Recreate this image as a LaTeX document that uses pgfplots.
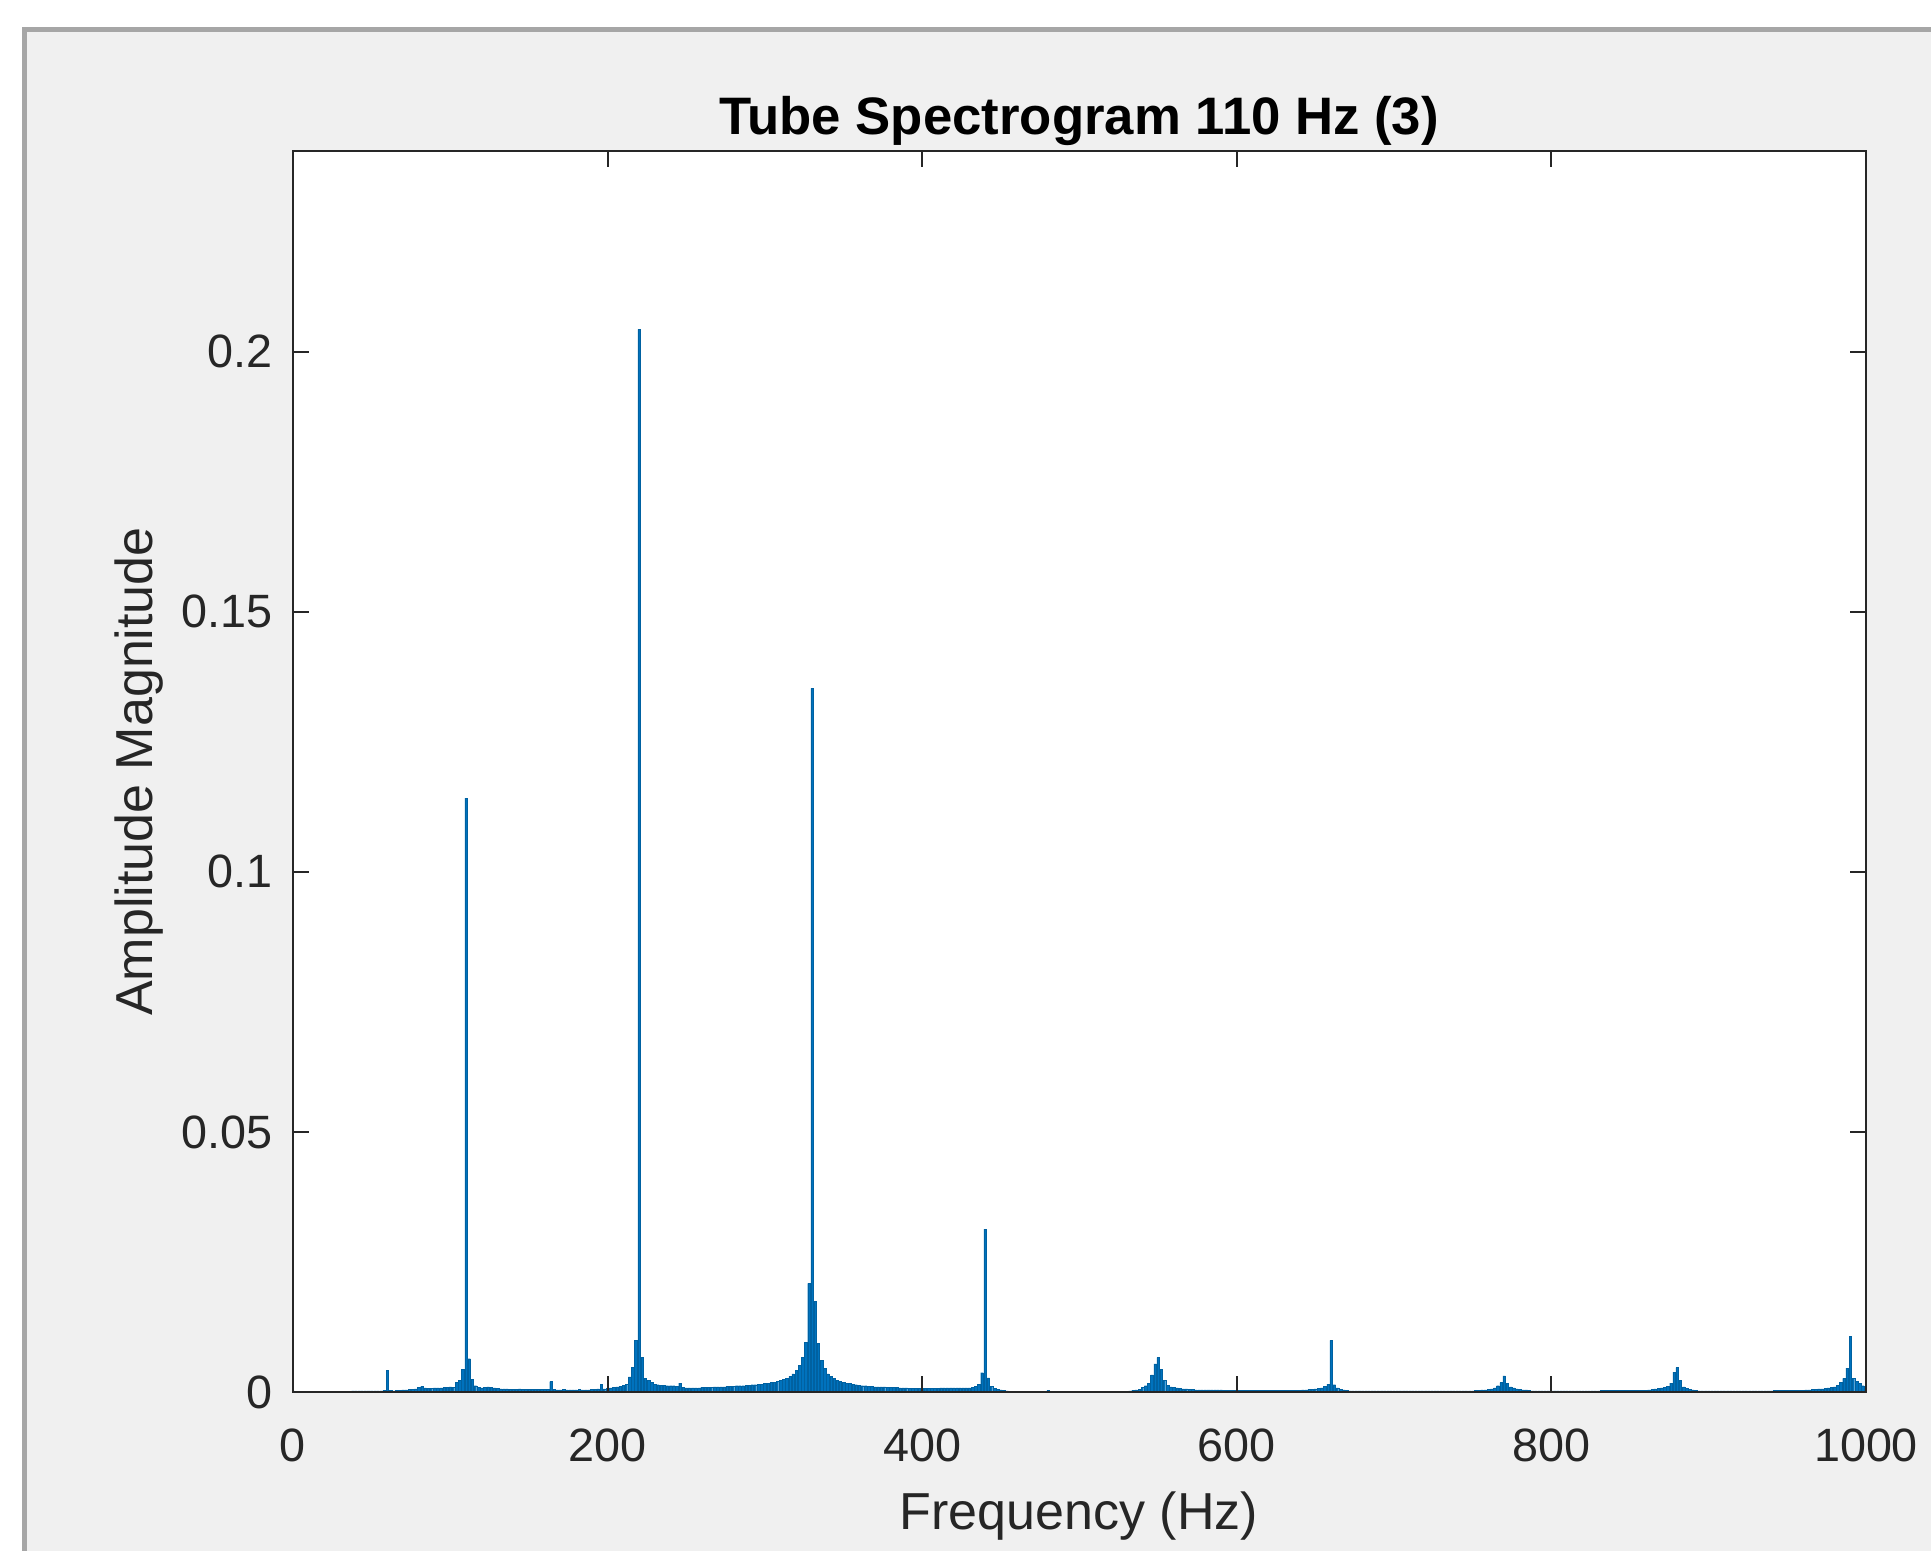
\documentclass[border=0pt]{standalone}
\usepackage{pgfplots}
\pgfplotsset{compat=1.18}
\usepackage{fontspec}
\setmainfont{Liberation Sans}
\definecolor{matblue}{RGB}{0,114,189}
\definecolor{figbg}{RGB}{240,240,240}
\definecolor{framegray}{RGB}{166,166,166}
\definecolor{axgray}{RGB}{38,38,38}

\begin{document}
\begin{tikzpicture}[x=1cm,y=1cm]
\useasboundingbox (0,0) rectangle (19.31,15.51);
% figure window background
\fill[white] (0,0) rectangle (19.31,15.51);
\fill[framegray] (0.22,0) rectangle (19.31,15.24);
\fill[figbg] (0.27,0) rectangle (19.31,15.19);
\begin{axis}[
    at={(2.93cm,1.59cm)}, anchor=south west,
    scale only axis,
    width=15.73cm, height=12.41cm,
    xmin=0, xmax=1000,
    ymin=0, ymax=0.2386,
    axis background/.style={fill=white},
    axis line style={axgray, line width=0.6pt},
    tick style={axgray, line width=0.6pt},
    tick align=inside,
    major tick length=0.16cm,
    xtick={0,200,400,600,800,1000},
    xticklabels={0,200,400,600,800,1000},
    ytick={0,0.05,0.1,0.15,0.2},
    yticklabels={0,0.05,0.1,0.15,0.2},
    ticklabel style={font=\fontsize{13.3}{16}\selectfont, text=axgray, inner sep=0pt},
    xticklabel style={anchor=north, yshift=-0.36cm},
    yticklabel style={anchor=east, xshift=-0.20cm},
    axis on top,
]
\addplot[ybar, bar width=1.6, fill=matblue, draw=matblue!85!black, line width=0.1pt] coordinates {
(0,0.0002) (2,0.0001) (4,0.0001) (6,0.0001) (8,0.0001) (10,0.0001) (12,0.0001) (14,0.0001)
(16,0.0001) (18,0.0001) (20,0.0001) (22,0.0001) (24,0.0001) (26,0.0001) (28,0.0001) (30,0.0001)
(32,0.0001) (34,0.0001) (36,0.0001) (38,0.0002) (40,0.0002) (42,0.0002) (44,0.0002) (46,0.0002)
(48,0.0002) (50,0.0002) (52,0.0002) (54,0.0002) (56,0.0002) (58,0.0003) (60,0.0042) (62,0.0003)
(64,0.0002) (66,0.0003) (68,0.0003) (70,0.0004) (72,0.0004) (74,0.0005) (76,0.0005) (78,0.0006)
(80,0.0009) (82,0.0011) (84,0.0008) (86,0.0007) (88,0.0007) (90,0.0008) (92,0.0008) (94,0.0008)
(96,0.0009) (98,0.0009) (100,0.0010) (102,0.0009) (104,0.0019) (106,0.0022) (108,0.0044) (110,0.1142)
(112,0.0064) (114,0.0024) (116,0.0012) (118,0.0009) (120,0.0008) (122,0.0009) (124,0.0010) (126,0.0009)
(128,0.0008) (130,0.0007) (132,0.0006) (134,0.0006) (136,0.0006) (138,0.0005) (140,0.0005) (142,0.0005)
(144,0.0006) (146,0.0005) (148,0.0005) (150,0.0005) (152,0.0005) (154,0.0005) (156,0.0005) (158,0.0005)
(160,0.0005) (162,0.0005) (164,0.0020) (166,0.0005) (168,0.0004) (170,0.0004) (172,0.0005) (174,0.0004)
(176,0.0004) (178,0.0004) (180,0.0004) (182,0.0005) (184,0.0004) (186,0.0004) (188,0.0004) (190,0.0005)
(192,0.0005) (194,0.0006) (196,0.0015) (198,0.0006) (200,0.0007) (202,0.0008) (204,0.0009) (206,0.0010)
(208,0.0011) (210,0.0013) (212,0.0015) (214,0.0029) (216,0.0047) (218,0.0099) (220,0.2043) (222,0.0066)
(224,0.0026) (226,0.0023) (228,0.0019) (230,0.0015) (232,0.0014) (234,0.0013) (236,0.0013) (238,0.0012)
(240,0.0012) (242,0.0012) (244,0.0011) (246,0.0017) (248,0.0009) (250,0.0008) (252,0.0008) (254,0.0008)
(256,0.0008) (258,0.0008) (260,0.0009) (262,0.0009) (264,0.0009) (266,0.0009) (268,0.0010) (270,0.0010)
(272,0.0010) (274,0.0010) (276,0.0011) (278,0.0011) (280,0.0011) (282,0.0012) (284,0.0012) (286,0.0012)
(288,0.0013) (290,0.0013) (292,0.0014) (294,0.0014) (296,0.0015) (298,0.0015) (300,0.0016) (302,0.0017)
(304,0.0018) (306,0.0019) (308,0.0020) (310,0.0022) (312,0.0024) (314,0.0026) (316,0.0030) (318,0.0035)
(320,0.0042) (322,0.0051) (324,0.0067) (326,0.0096) (328,0.0209) (330,0.1353) (332,0.0174) (334,0.0093)
(336,0.0061) (338,0.0045) (340,0.0035) (342,0.0030) (344,0.0026) (346,0.0023) (348,0.0021) (350,0.0019)
(352,0.0017) (354,0.0016) (356,0.0015) (358,0.0014) (360,0.0013) (362,0.0012) (364,0.0012) (366,0.0011)
(368,0.0011) (370,0.0010) (372,0.0010) (374,0.0010) (376,0.0010) (378,0.0009) (380,0.0009) (382,0.0009)
(384,0.0009) (386,0.0008) (388,0.0008) (390,0.0008) (392,0.0007) (394,0.0007) (396,0.0007) (398,0.0007)
(400,0.0007) (402,0.0007) (404,0.0007) (406,0.0007) (408,0.0007) (410,0.0007) (412,0.0008) (414,0.0008)
(416,0.0008) (418,0.0008) (420,0.0008) (422,0.0008) (424,0.0008) (426,0.0008) (428,0.0008) (430,0.0008)
(432,0.0009) (434,0.0011) (436,0.0015) (438,0.0037) (440,0.0313) (442,0.0027) (444,0.0011) (446,0.0007)
(448,0.0005) (450,0.0004) (452,0.0003) (454,0.0002) (456,0.0001) (458,0.0001) (460,0.0001) (462,0.0001)
(464,0.0001) (466,0.0001) (468,0.0001) (470,0.0001) (472,0.0001) (474,0.0001) (476,0.0001) (478,0.0001)
(480,0.0003) (482,0.0001) (484,0.0001) (486,0.0001) (488,0.0001) (490,0.0001) (492,0.0001) (494,0.0001)
(496,0.0001) (498,0.0001) (500,0.0001) (502,0.0001) (504,0.0001) (506,0.0001) (508,0.0001) (510,0.0001)
(512,0.0001) (514,0.0001) (516,0.0001) (518,0.0001) (520,0.0001) (522,0.0001) (524,0.0001) (526,0.0001)
(528,0.0001) (530,0.0001) (532,0.0002) (534,0.0003) (536,0.0004) (538,0.0005) (540,0.0009) (542,0.0012)
(544,0.0017) (546,0.0033) (548,0.0054) (550,0.0066) (552,0.0043) (554,0.0022) (556,0.0013) (558,0.0010)
(560,0.0009) (562,0.0008) (564,0.0007) (566,0.0006) (568,0.0006) (570,0.0005) (572,0.0005) (574,0.0004)
(576,0.0004) (578,0.0004) (580,0.0004) (582,0.0004) (584,0.0004) (586,0.0004) (588,0.0004) (590,0.0004)
(592,0.0003) (594,0.0003) (596,0.0003) (598,0.0003) (600,0.0003) (602,0.0003) (604,0.0003) (606,0.0003)
(608,0.0003) (610,0.0003) (612,0.0003) (614,0.0003) (616,0.0003) (618,0.0003) (620,0.0003) (622,0.0003)
(624,0.0003) (626,0.0003) (628,0.0003) (630,0.0003) (632,0.0003) (634,0.0003) (636,0.0003) (638,0.0003)
(640,0.0003) (642,0.0004) (644,0.0004) (646,0.0005) (648,0.0005) (650,0.0006) (652,0.0007) (654,0.0008)
(656,0.0011) (658,0.0015) (660,0.0099) (662,0.0014) (664,0.0008) (666,0.0005) (668,0.0004) (670,0.0003)
(672,0.0002) (674,0.0002) (676,0.0002) (678,0.0002) (680,0.0002) (682,0.0002) (684,0.0002) (686,0.0002)
(688,0.0002) (690,0.0002) (692,0.0002) (694,0.0002) (696,0.0002) (698,0.0002) (700,0.0002) (702,0.0002)
(704,0.0002) (706,0.0002) (708,0.0002) (710,0.0002) (712,0.0002) (714,0.0002) (716,0.0002) (718,0.0002)
(720,0.0002) (722,0.0002) (724,0.0002) (726,0.0002) (728,0.0002) (730,0.0002) (732,0.0002) (734,0.0002)
(736,0.0002) (738,0.0002) (740,0.0002) (742,0.0002) (744,0.0002) (746,0.0002) (748,0.0002) (750,0.0002)
(752,0.0003) (754,0.0003) (756,0.0004) (758,0.0004) (760,0.0005) (762,0.0006) (764,0.0008) (766,0.0012)
(768,0.0018) (770,0.0031) (772,0.0016) (774,0.0010) (776,0.0008) (778,0.0006) (780,0.0005) (782,0.0004)
(784,0.0004) (786,0.0003) (788,0.0002) (790,0.0002) (792,0.0002) (794,0.0002) (796,0.0002) (798,0.0002)
(800,0.0002) (802,0.0002) (804,0.0002) (806,0.0002) (808,0.0002) (810,0.0002) (812,0.0002) (814,0.0002)
(816,0.0002) (818,0.0002) (820,0.0002) (822,0.0002) (824,0.0002) (826,0.0002) (828,0.0002) (830,0.0002)
(832,0.0003) (834,0.0003) (836,0.0003) (838,0.0003) (840,0.0003) (842,0.0003) (844,0.0003) (846,0.0003)
(848,0.0003) (850,0.0003) (852,0.0003) (854,0.0003) (856,0.0003) (858,0.0003) (860,0.0003) (862,0.0004)
(864,0.0005) (866,0.0006) (868,0.0007) (870,0.0008) (872,0.0009) (874,0.0011) (876,0.0017) (878,0.0038)
(880,0.0047) (882,0.0023) (884,0.0010) (886,0.0007) (888,0.0005) (890,0.0004) (892,0.0003) (894,0.0002)
(896,0.0002) (898,0.0002) (900,0.0002) (902,0.0002) (904,0.0002) (906,0.0002) (908,0.0002) (910,0.0002)
(912,0.0002) (914,0.0002) (916,0.0002) (918,0.0002) (920,0.0002) (922,0.0002) (924,0.0002) (926,0.0002)
(928,0.0002) (930,0.0002) (932,0.0002) (934,0.0002) (936,0.0002) (938,0.0002) (940,0.0002) (942,0.0003)
(944,0.0003) (946,0.0003) (948,0.0003) (950,0.0003) (952,0.0003) (954,0.0003) (956,0.0003) (958,0.0003)
(960,0.0003) (962,0.0004) (964,0.0004) (966,0.0005) (968,0.0005) (970,0.0006) (972,0.0006) (974,0.0007)
(976,0.0008) (978,0.0009) (980,0.0010) (982,0.0013) (984,0.0019) (986,0.0026) (988,0.0046) (990,0.0107)
(992,0.0026) (994,0.0021) (996,0.0016) (998,0.0012) (1000,0.0008)
};
\end{axis}
\node[anchor=base, font=\fontsize{15}{18}\selectfont\bfseries] at (10.79,14.16) {Tube Spectrogram 110 Hz (3)};
\node[anchor=base, font=\fontsize{14.8}{18}\selectfont, text=axgray] at (10.79,0.21) {Frequency (Hz)};
\node[anchor=base, rotate=90, font=\fontsize{14.8}{18}\selectfont, text=axgray] at (1.52,7.795) {Amplitude Magnitude};
\end{tikzpicture}
\end{document}
